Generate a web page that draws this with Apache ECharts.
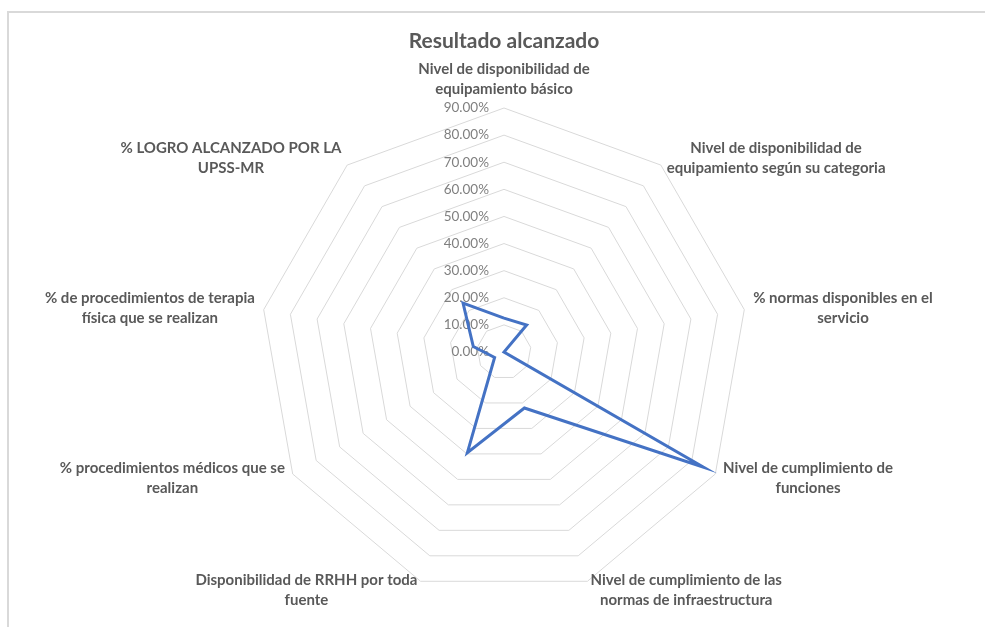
<!DOCTYPE html>
<html>
<head>
<meta charset="utf-8">
<script src="https://cdn.jsdelivr.net/npm/echarts@6/dist/echarts.min.js"></script>
<style>
  html, body { margin: 0; padding: 0; background: #ffffff; }
  #chart { position: absolute; left: 0; top: 0; width: 985px; height: 627px; }
  #frame { position: absolute; left: 7px; top: 11px; right: 0; bottom: 0;
           border-top: 2px solid #d9d9d9; border-left: 2px solid #d9d9d9; pointer-events: none; }
</style>
</head>
<body>
<div id="chart"></div>
<div id="frame"></div>
<script>
// ---- Data (clockwise order starting at the top) ----
const categories = [
  "Nivel de disponibilidad de\nequipamiento básico",
  "Nivel de disponibilidad de\nequipamiento según su categoria",
  "% normas disponibles en el\nservicio",
  "Nivel de cumplimiento de\nfunciones",
  "Nivel de cumplimiento de las\nnormas de infraestructura",
  "Disponibilidad de RRHH por toda\nfuente",
  "% procedimientos médicos que se\nrealizan",
  "% de procedimientos de terapia\nfísica que se realizan",
  "% LOGRO ALCANZADO POR LA\nUPSS-MR"
];
const seriesName = "Resultado alcanzado";
const values = [12.5, 13, 0, 85, 22, 39.5, 4, 11.5, 23.5]; // percent
const axisMax = 90;
const axisStep = 10;

// ECharts places radar indicators counter-clockwise; reorder so they run clockwise.
const order = [0].concat(categories.map((_, i) => i).slice(1).reverse());

const indicators = order.map((idx, k) => ({
  name: categories[idx],
  min: 0,
  max: axisMax,
  axisLabel: { show: k === 0 }
}));
const seriesValues = order.map(idx => values[idx]);

const chart = echarts.init(document.getElementById('chart'), null, { renderer: 'canvas' });
const FONT = 'Lato, "Open Sans", "Noto Sans", sans-serif';

chart.setOption({
  animation: false,
  backgroundColor: 'transparent',
  title: {
    text: seriesName,
    left: 499,
    top: 26,
    textAlign: 'center',
    textStyle: { fontFamily: FONT, fontSize: 21, fontWeight: 'bold', color: '#595959' }
  },
  radar: {
    center: [504, 352],
    radius: 244,
    startAngle: 90,
    shape: 'polygon',
    splitNumber: axisMax / axisStep,
    indicator: indicators,
    nameGap: 9,
    axisName: {
      formatter: function (name) {
        return name.split('\n').map(s => '{c|' + s + '}').join('\n');
      },
      fontFamily: FONT,
      fontSize: 15,
      fontWeight: 'bold',
      color: '#595959',
      rich: {
        c: { align: 'center', fontFamily: FONT, fontSize: 15, fontWeight: 'bold', color: '#595959', lineHeight: 20 }
      }
    },
    axisLine: { show: false },
    axisTick: { show: false },
    axisLabel: {
      show: false,
      margin: 15,
      fontFamily: FONT,
      fontSize: 13.5,
      color: '#7f7f7f',
      formatter: function (v) { return v.toFixed(2) + '%'; }
    },
    splitLine: { lineStyle: { color: '#d9d9d9', width: 1 } },
    splitArea: { show: false }
  },
  series: [{
    type: 'radar',
    name: seriesName,
    symbol: 'none',
    lineStyle: { color: '#4472c4', width: 3, join: 'miter' },
    itemStyle: { color: '#4472c4' },
    data: [{ value: seriesValues, name: seriesName }]
  }]
});
</script>
</body>
</html>
